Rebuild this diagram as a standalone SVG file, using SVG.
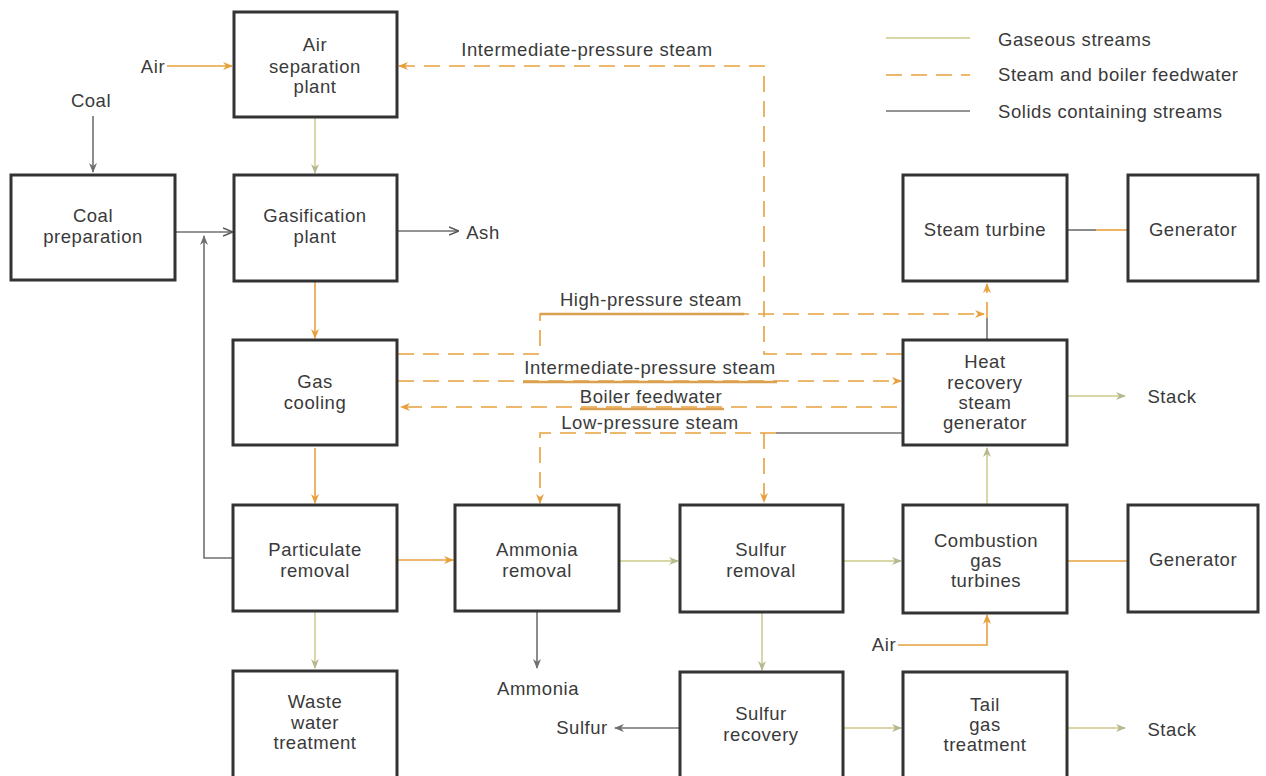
<svg xmlns="http://www.w3.org/2000/svg" width="1266" height="776" viewBox="0 0 1266 776">
<defs>
<style>
.box{fill:#fff;stroke:#333;stroke-width:3}
text{font-family:"Liberation Sans",Arial,sans-serif;font-size:18.5px;fill:#3a3a3a;letter-spacing:0.55px}
.c{text-anchor:middle}
.gas{fill:none;stroke:#d9d6a8;stroke-width:2}
.org{fill:none;stroke:#e8a03c;stroke-width:1.6}
.stm{fill:none;stroke:#e8a03c;stroke-width:1.6;stroke-dasharray:16 9}
.sol{fill:none;stroke:#707070;stroke-width:1.6}
.ul{fill:none;stroke:#d9a050;stroke-width:2.4}
</style>
<marker id="ao" viewBox="0 0 10 10" refX="9" refY="5" markerWidth="10" markerHeight="10" markerUnits="userSpaceOnUse" orient="auto"><path d="M0,1 L10,5 L0,9 L3,5 Z" fill="#e8a03c"/></marker>
<marker id="ag" viewBox="0 0 10 10" refX="9" refY="5" markerWidth="10" markerHeight="10" markerUnits="userSpaceOnUse" orient="auto"><path d="M0,1 L10,5 L0,9 L3,5 Z" fill="#b8b890"/></marker>
<marker id="as" viewBox="0 0 10 10" refX="9" refY="5" markerWidth="10" markerHeight="10" markerUnits="userSpaceOnUse" orient="auto"><path d="M0,1 L10,5 L0,9" fill="none" stroke="#555" stroke-width="1.5"/></marker>
<marker id="asf" viewBox="0 0 10 10" refX="9" refY="5" markerWidth="10" markerHeight="10" markerUnits="userSpaceOnUse" orient="auto"><path d="M0,1 L10,5 L0,9 L3,5 Z" fill="#707070"/></marker>
</defs>
<rect width="1266" height="776" fill="#fff"/>

<g id="legend">
<line x1="886" y1="38" x2="970" y2="38" class="gas"/>
<line x1="886" y1="75" x2="970" y2="75" class="stm" stroke-dasharray="14 10"/>
<line x1="886" y1="111" x2="970" y2="111" class="sol" stroke-width="2"/>
<text x="998" y="46">Gaseous streams</text>
<text x="998" y="81">Steam and boiler feedwater</text>
<text x="998" y="118">Solids containing streams</text>
</g>

<g id="connectors">
<line x1="167" y1="66" x2="232" y2="66" class="org" marker-end="url(#ao)"/>
<line x1="93" y1="116" x2="93" y2="172" class="sol" marker-end="url(#asf)"/>
<line x1="175" y1="232" x2="232" y2="232" class="sol" marker-end="url(#as)"/>
<line x1="397" y1="231" x2="458" y2="231" class="sol" marker-end="url(#as)"/>
<line x1="315" y1="118" x2="315" y2="173" class="gas" marker-end="url(#ag)"/>
<line x1="315" y1="282" x2="315" y2="338" class="org" stroke="#c89050" marker-end="url(#ao)"/>
<line x1="315" y1="448" x2="315" y2="503" class="org" marker-end="url(#ao)"/>
<line x1="315" y1="612" x2="315" y2="668" class="gas" marker-end="url(#ag)"/>
<path d="M232,558 H204 V236" class="sol" marker-end="url(#asf)"/>
<line x1="398" y1="560" x2="453" y2="560" class="org" marker-end="url(#ao)"/>
<line x1="620" y1="561" x2="678" y2="561" class="gas" marker-end="url(#ag)"/>
<line x1="844" y1="561" x2="901" y2="561" class="gas" marker-end="url(#ag)"/>
<line x1="1068" y1="561" x2="1127" y2="561" class="org"/>
<line x1="537" y1="612" x2="537" y2="668" class="sol" marker-end="url(#asf)"/>
<line x1="762" y1="613" x2="762" y2="670" class="gas" marker-end="url(#ag)"/>
<line x1="679" y1="728" x2="615" y2="728" class="sol" stroke-width="2" marker-end="url(#asf)"/>
<line x1="844" y1="728" x2="901" y2="728" class="gas" marker-end="url(#ag)"/>
<line x1="1068" y1="728" x2="1125" y2="728" class="gas" marker-end="url(#ag)"/>
<path d="M898,645 H987 V615" class="org" marker-end="url(#ao)"/>
<line x1="987" y1="504" x2="987" y2="448" class="gas" marker-end="url(#ag)"/>
<line x1="1068" y1="396" x2="1125" y2="396" class="gas" marker-end="url(#ag)"/>
<line x1="987" y1="339" x2="987" y2="318" class="sol" stroke="#b0b0b0"/>
<line x1="987" y1="318" x2="987" y2="284" class="stm" stroke-dasharray="10 8" marker-end="url(#ao)"/>
<line x1="1068" y1="230" x2="1096" y2="230" class="sol" stroke="#b0b0b0"/>
<line x1="1096" y1="230" x2="1127" y2="230" class="org"/>

<path d="M902,354 H764 V66 H399" class="stm" marker-end="url(#ao)"/>
<path d="M398,354 H540 V314 H984" class="stm" marker-end="url(#ao)"/>
<line x1="540" y1="314" x2="744" y2="314" class="ul"/>
<line x1="398" y1="381" x2="901" y2="381" class="stm" marker-end="url(#ao)"/>
<line x1="523" y1="382" x2="777" y2="382" class="ul"/>
<line x1="897" y1="407" x2="401" y2="407" class="stm" marker-end="url(#ao)"/>
<line x1="580" y1="409" x2="724" y2="409" class="ul"/>
<line x1="776" y1="433" x2="902" y2="433" class="sol" stroke="#c8c8c8" stroke-width="1.2"/>
<path d="M776,433 H540 V503" class="stm" marker-end="url(#ao)"/>
<line x1="764" y1="433" x2="764" y2="502" class="stm" marker-end="url(#ao)"/>
</g>

<g id="labels">
<text x="153" y="73" class="c">Air</text>
<text x="91" y="107" class="c">Coal</text>
<text x="483" y="239" class="c">Ash</text>
<text x="587" y="56" class="c">Intermediate-pressure steam</text>
<text x="651" y="306" class="c">High-pressure steam</text>
<text x="650" y="374" class="c">Intermediate-pressure steam</text>
<text x="651" y="403" class="c">Boiler feedwater</text>
<text x="650" y="429" class="c">Low-pressure steam</text>
<text x="1172" y="403" class="c">Stack</text>
<text x="1172" y="736" class="c">Stack</text>
<text x="538" y="695" class="c">Ammonia</text>
<text x="582" y="734" class="c">Sulfur</text>
<text x="884" y="651" class="c">Air</text>
</g>

<g id="n-airsep"><rect x="234" y="12" width="163" height="105" class="box"/><text x="315" y="51" class="c">Air</text><text x="315" y="73" class="c">separation</text><text x="315" y="93" class="c">plant</text></g>
<g id="n-coalprep"><rect x="11" y="175" width="164" height="105" class="box"/><text x="93" y="222" class="c">Coal</text><text x="93" y="243" class="c">preparation</text></g>
<g id="n-gasif"><rect x="234" y="175" width="163" height="106" class="box"/><text x="315" y="222" class="c">Gasification</text><text x="315" y="243" class="c">plant</text></g>
<g id="n-gascool"><rect x="233" y="340" width="164" height="105" class="box"/><text x="315" y="388" class="c">Gas</text><text x="315" y="409" class="c">cooling</text></g>
<g id="n-partic"><rect x="233" y="505" width="164" height="106" class="box"/><text x="315" y="556" class="c">Particulate</text><text x="315" y="577" class="c">removal</text></g>
<g id="n-waste"><rect x="233" y="671" width="164" height="108" class="box"/><text x="315" y="708" class="c">Waste</text><text x="315" y="729" class="c">water</text><text x="315" y="749" class="c">treatment</text></g>
<g id="n-ammonia"><rect x="455" y="505" width="164" height="106" class="box"/><text x="537" y="556" class="c">Ammonia</text><text x="537" y="577" class="c">removal</text></g>
<g id="n-sulfrem"><rect x="680" y="505" width="163" height="107" class="box"/><text x="761" y="556" class="c">Sulfur</text><text x="761" y="577" class="c">removal</text></g>
<g id="n-cgt"><rect x="903" y="505" width="164" height="108" class="box"/><text x="986" y="547" class="c">Combustion</text><text x="986" y="567" class="c">gas</text><text x="986" y="587" class="c">turbines</text></g>
<g id="n-gen2"><rect x="1128" y="505" width="130" height="107" class="box"/><text x="1193" y="566" class="c">Generator</text></g>
<g id="n-steamturb"><rect x="903" y="175" width="164" height="106" class="box"/><text x="985" y="236" class="c">Steam turbine</text></g>
<g id="n-gen1"><rect x="1128" y="175" width="130" height="106" class="box"/><text x="1193" y="236" class="c">Generator</text></g>
<g id="n-hrsg"><rect x="903" y="340" width="164" height="105" class="box"/><text x="985" y="368" class="c">Heat</text><text x="985" y="389" class="c">recovery</text><text x="985" y="409" class="c">steam</text><text x="985" y="429" class="c">generator</text></g>
<g id="n-sulfrec"><rect x="680" y="672" width="163" height="107" class="box"/><text x="761" y="720" class="c">Sulfur</text><text x="761" y="741" class="c">recovery</text></g>
<g id="n-tailgas"><rect x="903" y="672" width="164" height="107" class="box"/><text x="985" y="711" class="c">Tail</text><text x="985" y="731" class="c">gas</text><text x="985" y="751" class="c">treatment</text></g>
</svg>
